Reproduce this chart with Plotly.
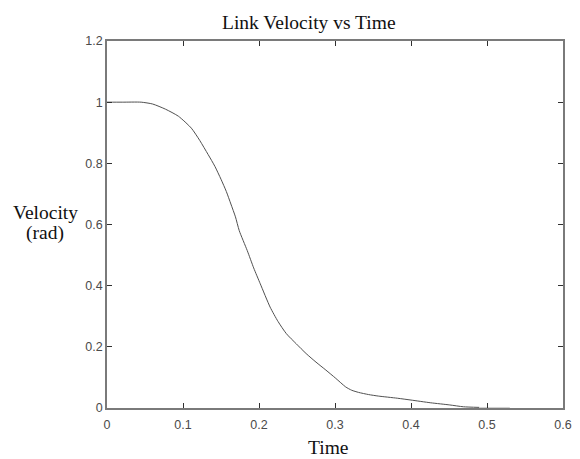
import plotly.graph_objects as go

time_vals = [0, 0.02, 0.045, 0.06, 0.077, 0.094, 0.111, 0.122, 0.133, 0.142, 0.150,
             0.157, 0.163, 0.169, 0.174, 0.1845, 0.193, 0.2017, 0.2146, 0.225, 0.236,
             0.249, 0.262, 0.275, 0.288, 0.301, 0.314, 0.322, 0.331, 0.344, 0.357,
             0.382, 0.4, 0.426, 0.451, 0.469, 0.49]
velocity_vals = [1, 1, 1, 0.994, 0.977, 0.954, 0.915, 0.875, 0.829, 0.79, 0.748,
                 0.708, 0.667, 0.625, 0.58, 0.515, 0.458, 0.406, 0.33, 0.283, 0.243,
                 0.21, 0.178, 0.15, 0.124, 0.097, 0.069, 0.058, 0.051, 0.044, 0.039,
                 0.032, 0.026, 0.017, 0.01, 0.004, 0.002]
tail_time = [0.49, 0.53]
tail_vals = [0.001, 0.001]

x_ticks = [0, 0.1, 0.2, 0.3, 0.4, 0.5, 0.6]
x_labels = ["0", "0.1", "0.2", "0.3", "0.4", "0.5", "0.6"]
y_ticks = [0, 0.2, 0.4, 0.6, 0.8, 1, 1.2]
y_labels = ["0", "0.2", "0.4", "0.6", "0.8", "1", "1.2"]

serif = "Liberation Serif, Times New Roman, serif"
sans = "Liberation Sans, Arial, sans-serif"

fig = go.Figure()
fig.add_trace(go.Scatter(x=time_vals, y=velocity_vals, mode="lines",
                         line=dict(color="#505050", width=1, shape="spline", smoothing=0.6),
                         showlegend=False))
fig.add_trace(go.Scatter(x=tail_time, y=tail_vals, mode="lines",
                         line=dict(color="#d0d0d0", width=1.5), showlegend=False))

axis_common = dict(showline=True, linecolor="#7a7a7a", linewidth=1.5, mirror="ticks",
                   ticks="inside", ticklen=5, tickcolor="#303030", tickwidth=1,
                   showgrid=False, zeroline=False,
                   tickfont=dict(family=sans, size=12.5, color="#4a4a4a"))

fig.update_layout(
    width=580, height=459,
    margin=dict(l=107, r=8, t=41, b=51),
    paper_bgcolor="white", plot_bgcolor="white",
    xaxis=dict(range=[0, 0.6], tickvals=x_ticks, ticktext=x_labels,
               ticklabelstandoff=4, **axis_common),
    yaxis=dict(range=[0, 1.2], tickvals=y_ticks, ticktext=y_labels, **axis_common),
    annotations=[
        dict(text="Link Velocity vs Time", xref="paper", yref="paper",
             x=0.443, y=1.0, yshift=19, xanchor="center", yanchor="middle",
             showarrow=False, font=dict(family=serif, size=19.5, color="#111")),
        dict(text="Time", xref="paper", yref="paper",
             x=0.485, y=0, yshift=-39, xanchor="center", yanchor="middle",
             showarrow=False, font=dict(family=serif, size=19.5, color="#111")),
        dict(text="Velocity", xref="paper", yref="paper",
             x=-0.1355, y=0.534, xanchor="center", yanchor="middle",
             showarrow=False, font=dict(family=serif, size=19.5, color="#111")),
        dict(text="(rad)", xref="paper", yref="paper",
             x=-0.1355, y=0.477, xanchor="center", yanchor="middle",
             showarrow=False, font=dict(family=serif, size=19.5, color="#111")),
    ],
)

fig.write_html("out.html")
